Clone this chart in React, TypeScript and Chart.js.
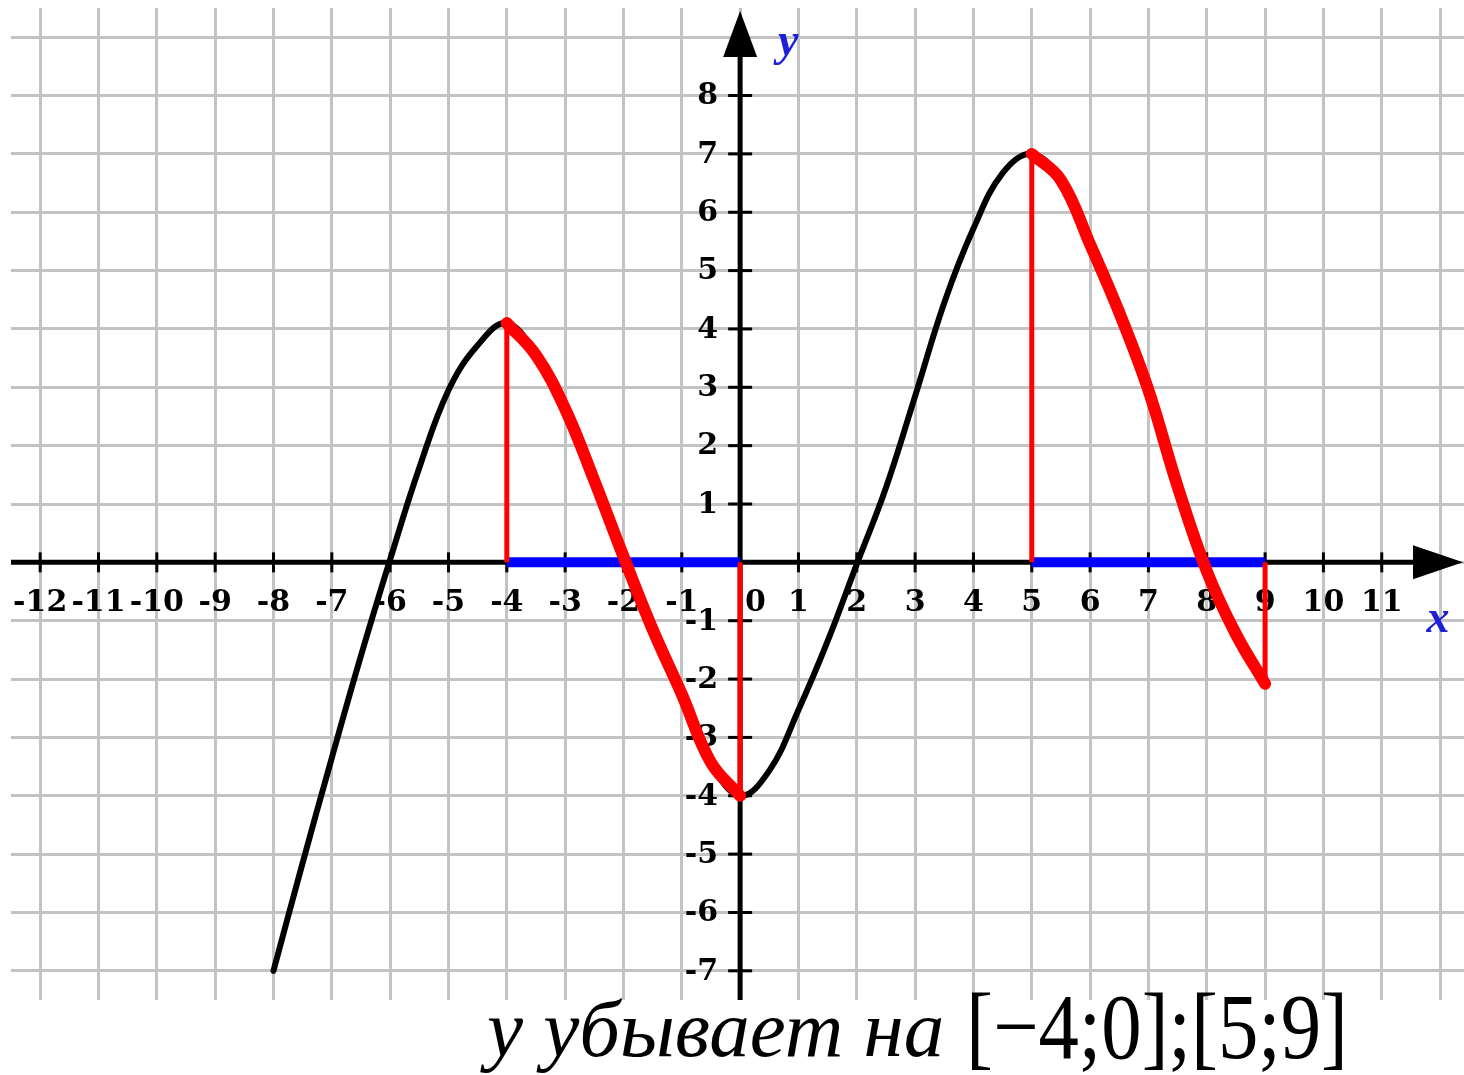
import React, { useEffect, useRef } from "react";
import { Chart, registerables } from "chart.js";

Chart.register(...registerables);

// Function graph
const curveX = [-8, -7.5, -7, -6.5, -6, -5.5, -5, -4.5, -4, -3.5, -3, -2.5, -2, -1.5, -1, -0.5, 0, 0.5, 1, 1.5, 2, 2.5, 3, 3.5, 4, 4.5, 5, 5.5, 6, 6.5, 7, 7.5, 8, 8.5, 9];
const curveY = [-7, -5.15, -3.35, -1.6, 0.05, 1.62, 2.95, 3.72, 4.1, 3.55, 2.63, 1.4, 0.1, -1.15, -2.26, -3.43, -4, -3.57, -2.53, -1.35, -0.03, 1.28, 2.85, 4.45, 5.72, 6.67, 7, 6.55, 5.45, 4.28, 2.95, 1.3, -0.15, -1.23, -2.08];

// Intervals where the function decreases
const decreasingStart = [-4, 5];
const decreasingEnd = [0, 9];

// Grid / tick values
const xGridTicks = [-12, -11, -10, -9, -8, -7, -6, -5, -4, -3, -2, -1, 0, 1, 2, 3, 4, 5, 6, 7, 8, 9, 10, 11, 12];
const yGridTicks = [-7, -6, -5, -4, -3, -2, -1, 0, 1, 2, 3, 4, 5, 6, 7, 8, 9];
const xTickLabels = [-12, -11, -10, -9, -8, -7, -6, -5, -4, -3, -2, -1, 0, 1, 2, 3, 4, 5, 6, 7, 8, 9, 10, 11];
const yTickLabels = [8, 7, 6, 5, 4, 3, 2, 1, -1, -2, -3, -4, -5, -6, -7];

const xMin = -12.5;
const xMax = 12.41;
const yMin = -7.5;
const yMax = 9.5;

const axisLabelX = "x";
const axisLabelY = "y";
const captionItalic = "y убывает на";
const captionIntervals = "[−4;0];[5;9]";

function valueAt(x: number): number {
  const i = curveX.indexOf(x);
  return curveY[i];
}

const axesPlugin = {
  id: "customAxes",
  beforeDatasetsDraw(chart: any) {
    const { ctx, chartArea, scales } = chart;
    const xs = scales.x;
    const ys = scales.y;
    const x0 = xs.getPixelForValue(0);
    const y0 = ys.getPixelForValue(0);
    ctx.save();
    ctx.fillStyle = "#000";
    ctx.strokeStyle = "#000";
    // x axis line
    ctx.lineWidth = 5;
    ctx.beginPath();
    ctx.moveTo(chartArea.left, y0);
    ctx.lineTo(chartArea.right - 30, y0);
    ctx.stroke();
    // x arrow
    ctx.beginPath();
    ctx.moveTo(chartArea.right - 1, y0);
    ctx.lineTo(chartArea.right - 51, y0 - 17);
    ctx.lineTo(chartArea.right - 51, y0 + 17);
    ctx.closePath();
    ctx.fill();
    // y axis line
    ctx.beginPath();
    ctx.moveTo(x0, chartArea.bottom);
    ctx.lineTo(x0, chartArea.top + 30);
    ctx.stroke();
    // y arrow
    ctx.beginPath();
    ctx.moveTo(x0, chartArea.top + 3);
    ctx.lineTo(x0 - 17, chartArea.top + 49);
    ctx.lineTo(x0 + 17, chartArea.top + 49);
    ctx.closePath();
    ctx.fill();

    // tick marks
    ctx.lineWidth = 3;
    xTickLabels.forEach((v) => {
      if (v === 0) return;
      const px = xs.getPixelForValue(v);
      ctx.beginPath();
      ctx.moveTo(px, y0 - 10);
      ctx.lineTo(px, y0 + 10);
      ctx.stroke();
    });
    yTickLabels.forEach((v) => {
      const py = ys.getPixelForValue(v);
      ctx.beginPath();
      ctx.moveTo(x0 - 12, py);
      ctx.lineTo(x0 + 12, py);
      ctx.stroke();
    });

    // tick labels
    ctx.font = "bold 30px 'DejaVu Serif', 'Liberation Serif', serif";
    ctx.textBaseline = "middle";
    xTickLabels.forEach((v) => {
      const px = xs.getPixelForValue(v);
      const label = v < 0 ? "-" + Math.abs(v) : String(v);
      if (v === 0) {
        ctx.textAlign = "left";
        ctx.fillText(label, px + 5, y0 + 41);
      } else {
        ctx.textAlign = "center";
        ctx.fillText(label, px, y0 + 41);
      }
    });
    ctx.textAlign = "right";
    yTickLabels.forEach((v) => {
      const py = ys.getPixelForValue(v);
      const label = v < 0 ? "-" + Math.abs(v) : String(v);
      ctx.fillText(label, x0 - 22, py + 1);
    });

    // axis names
    ctx.fillStyle = "#1f1fd8";
    ctx.font = "italic bold 46px 'Liberation Serif', serif";
    ctx.textAlign = "center";
    ctx.fillText(axisLabelY, x0 + 48, chartArea.top + 35);
    ctx.fillText(axisLabelX, chartArea.right - 26, y0 + 58);
    ctx.restore();
  },
  afterDraw(chart: any) {
    const { ctx } = chart;
    ctx.save();
    ctx.fillStyle = "#000";
    ctx.textBaseline = "alphabetic";
    ctx.textAlign = "left";
    ctx.font = "italic 81px 'Liberation Serif', serif";
    ctx.fillText(captionItalic, 487, 1056);
    ctx.font = "94px 'Liberation Serif', serif";
    const w = ctx.measureText(captionIntervals).width;
    ctx.translate(966, 1058);
    ctx.scale(382 / w, 1);
    ctx.fillText(captionIntervals, 0, 0);
    ctx.restore();
  },
};

export default function App() {
  const canvasRef = useRef<HTMLCanvasElement | null>(null);

  useEffect(() => {
    const canvas = canvasRef.current;
    if (!canvas) return;

    const curve = curveX.map((x, i) => ({ x, y: curveY[i] }));
    const redParts = decreasingStart.map((a, k) => {
      const b = decreasingEnd[k];
      return curveX
        .map((x, i) => ({ x, y: curveY[i] }))
        .filter((p) => p.x >= a && p.x <= b);
    });
    const verticals: { x: number; y: number }[][] = [];
    decreasingStart.forEach((a, k) => {
      const b = decreasingEnd[k];
      verticals.push([{ x: a, y: 0 }, { x: a, y: valueAt(a) }]);
      verticals.push([{ x: b, y: 0 }, { x: b, y: valueAt(b) }]);
    });
    const blueParts = decreasingStart.map((a, k) => [
      { x: a, y: 0 },
      { x: decreasingEnd[k], y: 0 },
    ]);

    const datasets: any[] = [];
    datasets.push({
      data: curve,
      showLine: true,
      borderColor: "#000000",
      borderWidth: 6,
      pointRadius: 0,
      tension: 0.4,
      borderCapStyle: "round",
      borderJoinStyle: "round",
      order: 10,
    });
    blueParts.forEach((d) =>
      datasets.push({
        data: d,
        showLine: true,
        borderColor: "#0000ff",
        borderWidth: 10,
        pointRadius: 0,
        borderCapStyle: "butt",
        order: 8,
      })
    );
    verticals.forEach((d) =>
      datasets.push({
        data: d,
        showLine: true,
        borderColor: "#ff0000",
        borderWidth: 5,
        pointRadius: 0,
        borderCapStyle: "butt",
        order: 6,
      })
    );
    redParts.forEach((d) =>
      datasets.push({
        data: d,
        showLine: true,
        borderColor: "#ff0000",
        borderWidth: 12,
        pointRadius: 0,
        tension: 0.4,
        borderCapStyle: "round",
        borderJoinStyle: "round",
        order: 1,
      })
    );

    const chart = new Chart(canvas, {
      type: "scatter",
      data: { datasets },
      options: {
        responsive: false,
        animation: false,
        devicePixelRatio: 1,
        layout: { padding: { left: 11, right: 0, top: 8, bottom: 75 } },
        plugins: {
          legend: { display: false },
          tooltip: { enabled: false },
        },
        scales: {
          x: {
            type: "linear",
            min: xMin,
            max: xMax,
            afterBuildTicks: (scale: any) => {
              scale.ticks = xGridTicks.map((v) => ({ value: v }));
            },
            ticks: { display: false },
            border: { display: false },
            grid: { color: "#c3c3c3", lineWidth: 3, drawTicks: false },
          },
          y: {
            type: "linear",
            min: yMin,
            max: yMax,
            afterBuildTicks: (scale: any) => {
              scale.ticks = yGridTicks.map((v) => ({ value: v }));
            },
            ticks: { display: false },
            border: { display: false },
            grid: { color: "#c3c3c3", lineWidth: 3, drawTicks: false },
          },
        },
      },
      plugins: [axesPlugin],
    });
    return () => chart.destroy();
  }, []);

  return (
    <div style={{ position: "fixed", left: 0, top: 0, width: 1464, height: 1075, background: "#fff" }}>
      <canvas ref={canvasRef} width={1464} height={1075} style={{ display: "block" }} />
    </div>
  );
}
